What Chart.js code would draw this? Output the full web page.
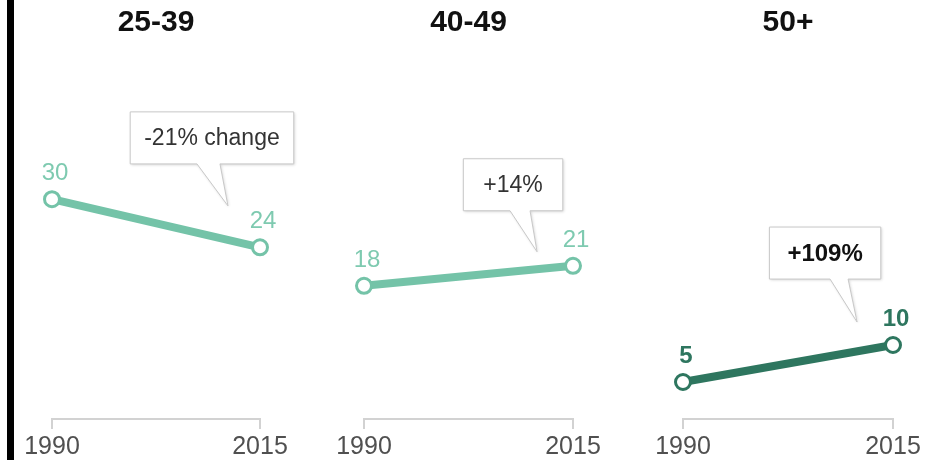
<!DOCTYPE html>
<html><head><meta charset="utf-8">
<script src="https://cdn.jsdelivr.net/npm/chart.js@4.4.0/dist/chart.umd.min.js"></script>
<style>
html,body{margin:0;padding:0;background:#fff;overflow:hidden;width:929px;height:460px;}
#bar{position:absolute;left:7px;top:0;width:7px;height:460px;background:#000;}
canvas{position:absolute;top:0;}
</style></head><body>
<div id="bar"></div>
<canvas id="c1" width="312" height="460" style="left:0px"></canvas>
<canvas id="c2" width="313" height="460" style="left:312px"></canvas>
<canvas id="c3" width="298" height="460" style="left:631px"></canvas>
<script>
// ---- data ----
const years = ['1990', '2015'];
const groups = ['25-39', '40-49', '50+'];
const values2539 = [29.7, 23.2];
const values4049 = [18.0, 20.7];
const values50 = [5.0, 10.0];
const labels2539 = ['30', '24'];
const labels4049 = ['18', '21'];
const labels50 = ['5', '10'];
const changes = ['-21% change', '+14%', '+109%'];

const FONT = '"Liberation Sans", Arial, sans-serif';
const TEAL = '#74c3a8';
const TEAL_TXT = '#7ecab0';
const DARK = '#2e765f';

function makeAnnot(cfg) {
  return {
    id: 'annot',
    afterDatasetsDraw(chart) {
      const ctx = chart.ctx;
      const meta = chart.getDatasetMeta(0);
      ctx.save();
      // value labels
      ctx.font = cfg.labelFont;
      ctx.fillStyle = cfg.labelColor;
      ctx.textAlign = 'center';
      ctx.textBaseline = 'alphabetic';
      meta.data.forEach((pt, i) => {
        ctx.fillText(cfg.labels[i], pt.x + 3, pt.y - 19);
      });
      // callout
      const xs = chart.scales.x, ys = chart.scales.y;
      const x0 = xs.getPixelForValue(0), x1 = xs.getPixelForValue(1);
      const tipX = x0 + (x1 - x0) * cfg.tip[0];
      const tipY = ys.getPixelForValue(cfg.tip[1]);
      ctx.font = cfg.calloutFont;
      const tw = ctx.measureText(cfg.text).width;
      const w = tw + 2 * cfg.padX, h = 52;
      const cx = tipX + cfg.boxOffset[0], cy = tipY + cfg.boxOffset[1];
      const l = cx - w / 2, r = cx + w / 2, t = cy - h / 2, b = cy + h / 2;
      ctx.beginPath();
      ctx.moveTo(l, t); ctx.lineTo(r, t); ctx.lineTo(r, b);
      ctx.lineTo(tipX + cfg.base[1], b); ctx.lineTo(tipX, tipY);
      ctx.lineTo(tipX + cfg.base[0], b); ctx.lineTo(l, b); ctx.closePath();
      ctx.shadowColor = 'rgba(0,0,0,0.18)';
      ctx.shadowBlur = 3; ctx.shadowOffsetX = 1; ctx.shadowOffsetY = 1;
      ctx.fillStyle = '#fff';
      ctx.fill();
      ctx.shadowColor = 'transparent';
      ctx.strokeStyle = '#c8c8c8';
      ctx.lineWidth = 1;
      ctx.stroke();
      ctx.fillStyle = cfg.calloutColor;
      ctx.textBaseline = 'middle';
      ctx.fillText(cfg.text, cx, cy + 1);
      ctx.restore();
    }
  };
}

function makeChart(id, title, values, rightPad, color, annot) {
  return new Chart(document.getElementById(id), {
    type: 'line',
    data: {
      labels: years,
      datasets: [{
        data: values,
        borderColor: color,
        borderWidth: 8,
        pointRadius: 7.5,
        pointHoverRadius: 7.5,
        pointBackgroundColor: '#fff',
        pointBorderColor: color,
        pointBorderWidth: 3,
        tension: 0,
        clip: false
      }]
    },
    options: {
      responsive: false,
      animation: false,
      events: [],
      layout: { padding: { left: 52, right: rightPad, top: 0, bottom: -5 } },
      plugins: {
        legend: { display: false },
        tooltip: { enabled: false },
        title: {
          display: true, text: title, fullSize: false, color: '#111',
          font: { family: FONT, size: 30, weight: 'bold' },
          padding: { top: 5, bottom: 8 }
        }
      },
      scales: {
        x: {
          type: 'category', offset: false,
          grid: { drawOnChartArea: false, color: '#d2d2d2', tickLength: 10, lineWidth: 2 },
          border: { color: '#d2d2d2', width: 2 },
          ticks: { color: '#505050', font: { family: FONT, size: 25 }, padding: 3 }
        },
        y: { display: false, min: 0, max: 50 }
      }
    },
    plugins: [makeAnnot(annot)]
  });
}

makeChart('c1', groups[0], values2539, 52, TEAL, {
  labels: labels2539, labelFont: '24px ' + FONT, labelColor: TEAL_TXT,
  text: changes[0], calloutFont: '23px ' + FONT, calloutColor: '#333', padX: 14,
  tip: [0.846, 28.8], boxOffset: [-16, -68], base: [-31, -8]
});
makeChart('c2', groups[1], values4049, 52, TEAL, {
  labels: labels4049, labelFont: '24px ' + FONT, labelColor: TEAL_TXT,
  text: changes[1], calloutFont: '23px ' + FONT, calloutColor: '#333', padX: 20,
  tip: [0.828, 22.6], boxOffset: [-24, -67], base: [-27, -7]
});
makeChart('c3', groups[2], values50, 36, DARK, {
  labels: labels50, labelFont: 'bold 24px ' + FONT, labelColor: DARK,
  text: changes[2], calloutFont: 'bold 24px ' + FONT, calloutColor: '#111', padX: 18,
  tip: [0.829, 13.1], boxOffset: [-32, -69], base: [-27, -9]
});
</script>
</body></html>
